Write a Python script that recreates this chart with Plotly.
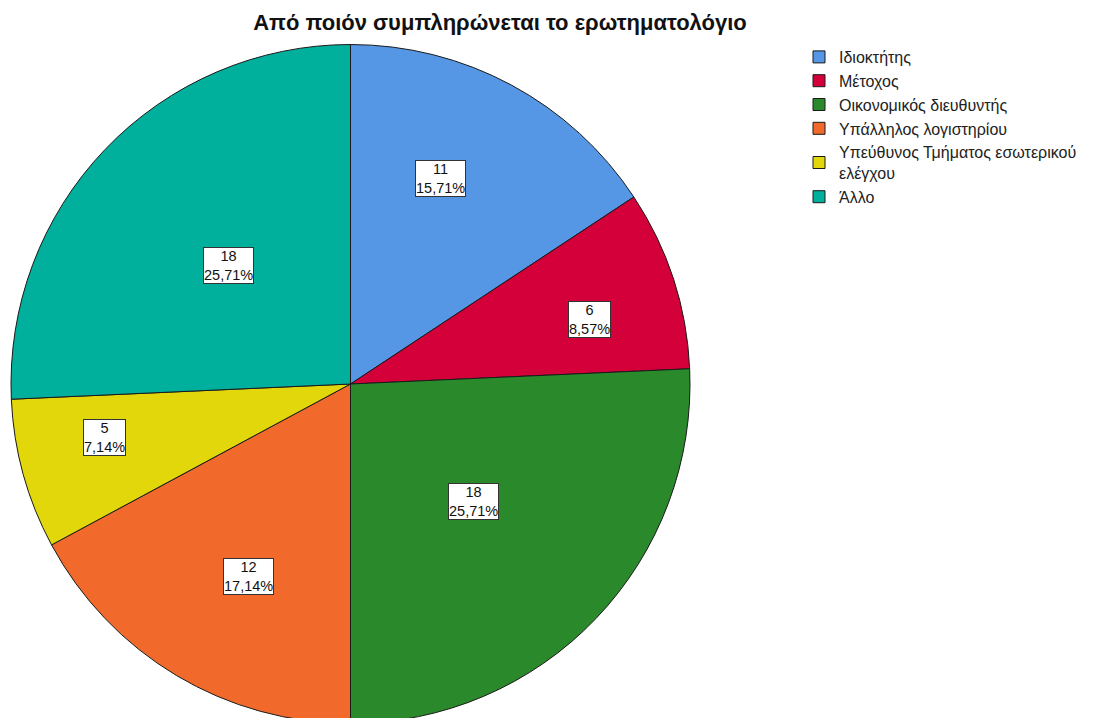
import math
import plotly.graph_objects as go

# data
categories = ["Ιδιοκτήτης", "Μέτοχος", "Οικονομικός διευθυντής",
              "Υπάλληλος λογιστηρίου", "Υπεύθυνος Τμήματος εσωτερικού<br>ελέγχου", "Άλλο"]
counts = [11, 6, 18, 12, 5, 18]
colors = ["#5597E4", "#D3003A", "#2A8A2B", "#F26A2B", "#E2D70B", "#00AF9C"]

# label placement tweaks (fraction of radius, angle nudge in degrees)
label_r = [0.66, 0.73, 0.50, 0.64, 0.74, 0.50]
label_da = [-4.7, 3.0, 0.0, -3.0, 3.2, 0.5]

W, H = 1117, 718
OFF = 8  # page body margin shifts the figure
cx, cy, R = 350.5 - OFF, 384.0 - OFF, 339.5

fig = go.Figure()
fig.add_trace(go.Pie(
    labels=categories,
    values=counts,
    sort=False,
    direction="clockwise",
    rotation=0,
    marker=dict(colors=colors, line=dict(color="#1a1a1a", width=1)),
    textinfo="none",
    hoverinfo="label+value+percent",
    domain=dict(x=[(cx - R) / W, (cx + R) / W],
                y=[1 - (cy + R) / H, 1 - (cy - R) / H]),
))

# labels in white boxes, SPSS style
total = sum(counts)
cum = 0
for i, v in enumerate(counts):
    mid = (cum + v / 2) / total * 360 + label_da[i]
    cum += v
    a = math.radians(mid)
    px = cx + R * label_r[i] * math.sin(a)
    py = cy - R * label_r[i] * math.cos(a)
    pct = f"{v / total * 100:.2f}".replace(".", ",")
    fig.add_annotation(
        x=px / W, y=1 - py / H, xref="paper", yref="paper",
        xanchor="center", yanchor="middle",
        text=f"{v}<br>{pct}%", showarrow=False,
        font=dict(family="Liberation Sans, Arial", size=14.5, color="#111"),
        bgcolor="white", bordercolor="#333", borderwidth=1, borderpad=0,
        align="center",
    )

fig.update_layout(
    width=W, height=H,
    margin=dict(l=0, r=0, t=0, b=0),
    paper_bgcolor="white",
    title=dict(text="<b>Από ποιόν συμπληρώνεται το ερωτηματολόγιο</b>",
               x=(500 - OFF) / W, xanchor="center", y=1 - (22 - OFF) / H, yanchor="middle",
               font=dict(family="Liberation Sans, Arial", size=22, color="#111")),
    legend=dict(x=(799 - OFF) / W, y=1 - (40 - OFF) / H, xanchor="left", yanchor="top",
                font=dict(family="Liberation Sans, Arial", size=16, color="#222"),
                bgcolor="rgba(0,0,0,0)", traceorder="normal"),
    showlegend=True,
)

fig.write_html("out.html")
